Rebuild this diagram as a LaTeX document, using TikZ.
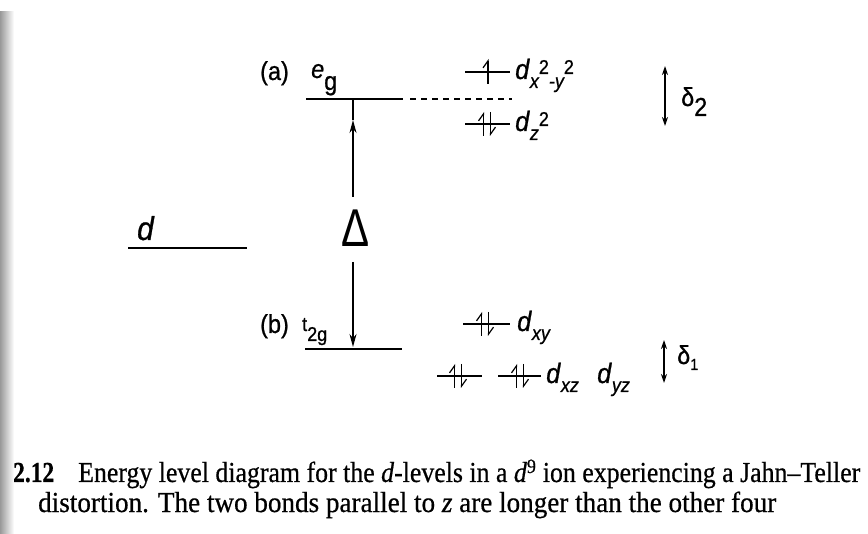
\documentclass[tikz,border=0pt]{standalone}
\usepackage{fontspec}
\setmainfont{Liberation Serif}
\newfontfamily\capserif[FakeBold=0.6]{Liberation Serif}
\newfontfamily\lblsans[FakeStretch=0.9,FakeBold=0.8]{Liberation Sans}
\newfontfamily\deltafont{Liberation Sans}
\usetikzlibrary{arrows.meta}
\newcommand\lblfont{\lblsans\fontsize{26}{28}\selectfont}
\newcommand\subfont{\lblsans\fontsize{20}{22}\selectfont}
\newcommand\dsub[1]{{\fontsize{28}{30}\selectfont\textit{d}}\raisebox{-9pt}{\subfont\itshape #1}}
\newcommand\epair[2]{%
  \draw[el] ({#1-3.5},{#2+12}) -- ({#1-3.5},{#2-12});
  \draw[el] ({#1+3.5},{#2-12}) -- ({#1+3.5},{#2+12});}
\begin{document}
\begin{tikzpicture}[x=1pt,y=-1pt,
  lvl/.style={line width=1.7pt},
  el/.style={line width=1.2pt,-{Straight Barb[harpoon,length=7pt,width=10pt]}},
  lbl/.style={font=\lblfont, inner sep=0pt, anchor=base west},
  captext/.style={font=\capserif\fontsize{29}{31}\selectfont, inner sep=0pt, anchor=base west},
  gaparrow/.style={line width=1.6pt,{Stealth[length=9pt,width=6pt]}-{Stealth[length=9pt,width=6pt]}},
  bigarrow/.style={line width=1.3pt,-{Stealth[length=13pt,width=7pt]}}]
\useasboundingbox (0,0) rectangle (868,534);
\fill[white] (0,0) rectangle (868,534);
\shade[left color=black!40, right color=white] (0,12) rectangle (14,534);

% levels
\coordinate (egL) at (306,99); \coordinate (egR) at (403,99);
\coordinate (egM) at (353,99);
\coordinate (dashL) at (410,99); \coordinate (dashR) at (512,99);
\draw[lvl] (egL) -- (egR);
\draw[lvl, dash pattern=on 6pt off 5pt] (dashL) -- (dashR);

\coordinate (aL) at (465,72); \coordinate (aR) at (510,72);
\draw[lvl] (aL) -- (aR);
\draw[el] (488,84) -- (488,59);

\coordinate (zL) at (465,124); \coordinate (zR) at (510,124);
\draw[lvl] (zL) -- (zR);
\epair{487}{124}

\coordinate (dL) at (128,248); \coordinate (dR) at (247,248);
\draw[lvl] (dL) -- (dR);

\coordinate (tL) at (305,349); \coordinate (tR) at (402,349);
\draw[lvl] (tL) -- (tR);

\coordinate (xyL) at (463,324); \coordinate (xyR) at (510,324);
\draw[lvl] (xyL) -- (xyR);
\epair{485}{324}

\coordinate (xzL) at (437,376); \coordinate (xzR) at (482,376);
\draw[lvl] (xzL) -- (xzR);
\epair{458}{376}
\coordinate (yzL) at (498,376); \coordinate (yzR) at (541,376);
\draw[lvl] (yzL) -- (yzR);
\epair{520}{376}

% Delta
\node[inner sep=0pt] (tri) at (356,228) {\scalebox{1.05}[1.33]{\deltafont\fontsize{40}{42}\selectfont Δ}};
\coordinate (upS) at (353,197); \coordinate (upT) at (353,120);
\draw[bigarrow] (upS) -- (upT);
\draw[line width=1.3pt] (upT) -- (egM);
\coordinate (dnS) at (353,262); \coordinate (dnT) at (353,347);
\draw[bigarrow] (dnS) -- (dnT);

% splitting arrows
\coordinate (s2a) at (665,66); \coordinate (s2b) at (665,126);
\draw[gaparrow] (s2a) -- (s2b);
\coordinate (s1a) at (664,340); \coordinate (s1b) at (664,383);
\draw[gaparrow] (s1a) -- (s1b);

% labels
\node[lbl] (la) at (260,80) {(a)};
\node[lbl] (leg) at (311,78) {\textit{e}\raisebox{-12pt}{g}};
\node[lbl] (ld) at (137,240) {\fontsize{33}{35}\selectfont\textit{d}};
\node[lbl] (ldx) at (515,79) {{\fontsize{28}{30}\selectfont\textit{d}}\raisebox{-9pt}{\subfont\itshape x\raisebox{14pt}{\upshape 2}-y\raisebox{14pt}{\upshape 2}}};
\node[lbl] (ldz) at (515,131) {{\fontsize{28}{30}\selectfont\textit{d}}\raisebox{-9pt}{\subfont\itshape z\raisebox{14pt}{\upshape 2}}};
\node[lbl] (lb) at (260,333) {(b)};
\node[lbl] (lt) at (302,331) {{\fontsize{20}{21}\selectfont t}\raisebox{-10pt}{\subfont 2g}};
\node[lbl] (lxy) at (517,331) {\dsub{xy}};
\node[lbl] (lxz) at (546,383) {\dsub{xz}};
\node[lbl] (lyz) at (597,383) {\dsub{yz}};
\node[lbl] (ls2) at (681,106) {δ\raisebox{-10pt}{2}};
\node[lbl] (ls1) at (677,364) {δ\raisebox{-6pt}{\fontsize{16}{18}\selectfont 1}};

% caption
\node[captext] (num) at (13,482) {\resizebox{41pt}{\height}{\textbf{2.12}}};
\node[captext] (cap1) at (78,482) {\resizebox{782pt}{\height}{Energy level diagram for the \textit{d}-levels in a \textit{d}\textsuperscript{9} ion experiencing a Jahn–Teller}};
\node[captext] (cap2) at (38,512) {\resizebox{738pt}{\height}{distortion. The two bonds parallel to \textit{z} are longer than the other four}};
\end{tikzpicture}
\end{document}
